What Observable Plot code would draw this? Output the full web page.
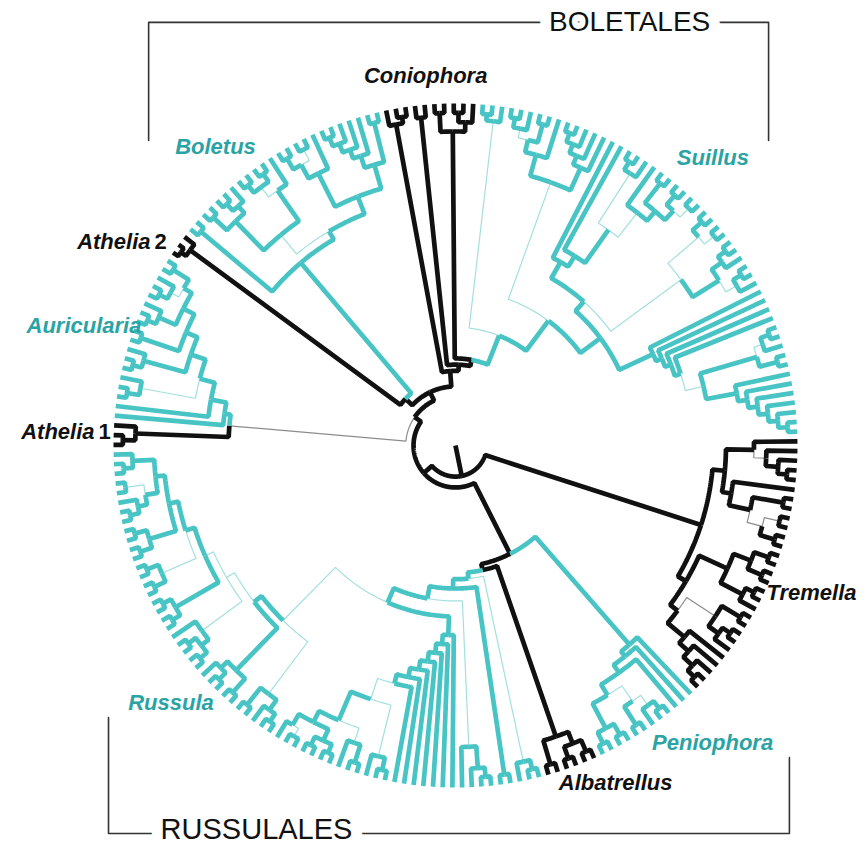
<!DOCTYPE html>
<html><head><meta charset="utf-8">
<script src="https://cdn.jsdelivr.net/npm/d3@7"></script>
<script src="https://cdn.jsdelivr.net/npm/@observablehq/plot@0.6"></script>
<style>body{margin:0;background:#fff}</style>
</head><body><div id="chart"></div>
<script>
// ---- DATA: clade topologies (Newick-like). Label after a node: [~ thin branch][k black | t teal][node age]
const tremella    = "(((o,(o,(o,(o,o)3)6)~10)14,(o,((o,o)3,((o,o)~3,(o,o)3)~8)13)20)23,((((o,o)3,(o,o)3)8,((o,o)3,o)6)14,(((o,o)3,((o,o)3,o)6)~10,(o,(o,(o,(o,o)3)6)10)14)21)24)k27";
const peniophora  = "(o,(o,(o,((((o,o)3,o)~6,(o,o)3)~10,((o,o)3,(o,o)3)7)16)20)23)t25";
const albatrellus = "(((o,o)3,(o,o)3)7,(o,o)3)k11";
const russulaParts = {
  lin0: "((o,o)3,o)~6",
  lin1: "(o,o)3",
  lin2: "(((o,o)3,o)6,o)~13",
  comb: "(o,(o,(o,(o,(o,(o,(o,(((o,o)3,o)~7,(((o,o)3,o)~9,(((o,o)3,(o,o)3)6,((o,o)~3,o)6)10)14)~24)31)34)37)40)43)46)49",
  left: "((((o,o)3,o)6,(o,o)3)~10,(((o,o)3,((o,o)3,o)6)9,((((o,o)3,(o,o)3)6,o)~9,(((o,o)3,(o,o)3)6,(((o,o)3,(o,o)3)~7,(((o,o)3,(o,o)3)7,((((o,o)3,o)6,(o,o)~3)9,((o,o)3,o)6)13)16)19)~22)~25)28)~31"
};
const russula     = `(${russulaParts.lin0},(${russulaParts.lin1},(${russulaParts.lin2},(${russulaParts.comb},${russulaParts.left})55)60)64)t67`;
const athelia1    = "((o,o)3,o)k7";
const auricularia = "(o,(o,(((o,o)3,o)~7,(((o,o)3,o)6,((o,o)3,(((o,o)3,o)6,(((o,o)3,o)~6,(o,o)3)9)12)16)20)25)30)t35";
const athelia2    = "((o,o)2,o)k4";
const boletus     = "((o,o)3,((((o,o)3,((o,o)3,o)6)9,(((o,o)3,(o,o)3)~6,o)10)~22,((((o,o)3,(o,o)~3)7,o)12,(((((o,o)3,o)6,o)9,o)12,(o,o)3)16)24)30)t33";
const coniophoraA = "(o,(o,o)3)k5";
const coniophoraB = "(o,o)k4";
const coniophoraC = "((o,o)3,((o,o)3,o)6)k9";
const suillusParts = {
  s1: "((o,o)3,o)~5",
  s2: "(((((o,o)3,o)~6,(o,o)3)9,o)13,((((o,o)3,o)6,o)9,o)12)~20",
  s3: "(o,(o,(((o,o)3,o)~6,(o,((o,o)3,((o,o)3,(o,o)~3)7)11)~15)25)38)42",
  s4: "(((o,o)3,(o,o)~3)~7,(((o,o)3,o)6,((o,o)3,o)~6)10)~20",
  s5: "(o,(o,(o,(o,((((o,o)3,o)~6,(o,o)3)9,(o,(o,(o,(o,(o,(o,o)3)6)9)12)15)18)~28)34)36)38)40"
};
const suillus = `(${suillusParts.s1},(${suillusParts.s2},((${suillusParts.s3},${suillusParts.s4})48,${suillusParts.s5})52)60)t72`;
// backbone with clade placeholders
const backbone = "({TREM},(({PEN},({ALB},{RUS})69)71,(({ATH1},{AUR})~37,(({ATH2},{BOL})88,({CONA},({CONB},({CONC},{SUI})82)84)86)91)94)96.5)100";
const cladeStrings = {TREM: tremella, PEN: peniophora, ALB: albatrellus, RUS: russula, ATH1: athelia1,
  AUR: auricularia, ATH2: athelia2, BOL: boletus, CONA: coniophoraA, CONB: coniophoraB, CONC: coniophoraC, SUI: suillus};

// clade labels
const labelNames  = ["Tremella", "Peniophora", "Albatrellus", "Russula", "Auricularia", "Boletus", "Coniophora", "Suillus"];
const labelColors = ["k", "t", "k", "t", "t", "t", "k", "t"];
const labelSpots  = [[114.5, 47.3], [82.7, 95.8], [51.5, 108.4], [-91.5, 82.7], [-119.5, -38.3], [-77.2, -95.9], [-9.6, -119.0], [82.8, -92.6]];
const atheliaLabels = [{name: "Athelia", num: "1", x: -116.1, y: -4.2}, {name: "Athelia", num: "2", x: -98.1, y: -65.6}];
// order brackets
const bracketNames = ["BOLETALES", "RUSSULALES"];
const bracketText  = [[56.0, -136.1], [-64.0, 123.6]];
const bracketPaths = [
  [[-98.7, -98.1], [-98.7, -136.1], [100.7, -136.1], [100.7, -98.1]],
  [[-111.6, 87.5], [-111.6, 124.8], [107.4, 124.8], [107.4, 100.4]]
];

// ---- parse
function parseTree(s) {
  s = s.replace(/\s+/g, "");
  let i = 0;
  function readLabel(n) {
    const m = /^[~kt0-9.]*/.exec(s.slice(i))[0];
    i += m.length;
    n.thin = m.includes("~");
    n.col = m.includes("k") ? "k" : m.includes("t") ? "t" : null;
    const num = m.replace(/[~kt]/g, "");
    n.age = num === "" ? null : +num;
  }
  function node() {
    const n = {children: null};
    if (s[i] === "(") {
      i++;
      n.children = [node()];
      while (s[i] === ",") { i++; n.children.push(node()); }
      i++;
    } else { i++; }
    readLabel(n);
    return n;
  }
  return node();
}
const full = backbone.replace(/\{(\w+)\}/g, (m, k) => cladeStrings[k]);
const root = parseTree(full);

function fillAge(n) {
  if (!n.children) { if (n.age == null) n.age = 0; return n.age; }
  const m = d3.max(n.children, fillAge);
  if (n.age == null) n.age = m + 3;
  return n.age;
}
fillAge(root);
function fillColor(n, c) { n.col = n.col || c; if (n.children) n.children.forEach(ch => fillColor(ch, n.col)); }
fillColor(root, "k");
const leaves = [];
(function collect(n) { if (!n.children) leaves.push(n); else n.children.forEach(collect); })(root);
const step = 360 / leaves.length;
const a0 = -0.7;
leaves.forEach((l, i) => l.angle = a0 + i * step);
(function setAngle(n) {
  if (n.children) { n.children.forEach(setAngle); n.angle = (n.children[0].angle + n.children[n.children.length - 1].angle) / 2; }
})(root);

const T = 110; // radius of tips in tree units
const rad = a => a * Math.PI / 180;
const palette = {k: "#111111", t: "#48c4c5", kThin: "#8c8c8c", tThin: "#a3dfdf"};
const segs = [];
let sid = 0;
function pushPts(pts, n, thin) {
  const color = palette[n.col + (thin ? "Thin" : "")];
  for (const [r, a] of pts) segs.push({id: sid, x: r * Math.cos(rad(a)), y: r * Math.sin(rad(a)), color, w: thin ? 1.2 : 4.7, thin});
  sid++;
}
pushPts([[0, root.angle], [T - root.age, root.angle]], root, false);
(function walk(n, p) {
  if (p) {
    const pr = T - p.age, cr = T - n.age;
    const k = Math.max(1, Math.ceil(Math.abs(n.angle - p.angle) / 0.5));
    const pts = [];
    for (let j = 0; j <= k; j++) pts.push([pr, p.angle + (n.angle - p.angle) * j / k]);
    pts.push([cr, n.angle]);
    pushPts(pts, n, n.thin);
  }
  if (n.children) n.children.forEach(c => walk(c, n));
})(root, null);

const labels = labelNames.map((name, i) => ({name, x: labelSpots[i][0], y: labelSpots[i][1], color: labelColors[i] === "k" ? "#111" : "#2aa3a4"}));
const bracketLines = bracketPaths.flatMap((pts, i) => pts.map(([x, y]) => ({id: i, x, y})));
const bracketLabels = bracketNames.map((name, i) => ({name, x: bracketText[i][0], y: bracketText[i][1], size: i ? 29 : 28}));

const W = 866, H = 846, k = 342 / T, cx = 455, cy = 445;
const font = "'Liberation Sans', Arial, Helvetica, sans-serif";
const chart = Plot.plot({
  width: W, height: H, margin: 0,
  x: {domain: [-cx / k, (W - cx) / k], range: [0, W], axis: null},
  y: {domain: [-cy / k, (H - cy) / k], range: [0, H], axis: null},
  color: {type: "identity"},
  style: {background: "#fff", fontFamily: font},
  marks: [
    Plot.line(bracketLines, {x: "x", y: "y", z: "id", stroke: "#333", strokeWidth: 1.6}),
    Plot.text(bracketLabels.slice(0, 1), {x: "x", y: "y", text: "name", fontSize: 28, fill: "#111", stroke: "white", strokeWidth: 22, fontFamily: font}),
    Plot.text(bracketLabels.slice(1), {x: "x", y: "y", text: "name", fontSize: 29, fill: "#111", stroke: "white", strokeWidth: 22, fontFamily: font}),
    Plot.line(segs.filter(d => d.thin), {x: "x", y: "y", z: "id", stroke: "color", strokeWidth: "w", strokeLinejoin: "miter", strokeLinecap: "butt", curve: "linear"}),
    Plot.line(segs.filter(d => !d.thin), {x: "x", y: "y", z: "id", stroke: "color", strokeWidth: "w", strokeLinejoin: "miter", strokeLinecap: "butt", curve: "linear"}),
    Plot.text(labels, {x: "x", y: "y", text: "name", fill: "color", fontSize: 22, fontWeight: "bold", fontStyle: "italic"}),
    Plot.text(atheliaLabels, {x: "x", y: "y", text: "name", fill: "#111", fontSize: 22, fontWeight: "bold", fontStyle: "italic", textAnchor: "end"}),
    Plot.text(atheliaLabels, {x: "x", y: "y", text: "num", fill: "#111", fontSize: 22, fontWeight: "bold", textAnchor: "start", dx: 4})
  ]
});
document.getElementById("chart").appendChild(chart);
</script>
</body></html>
